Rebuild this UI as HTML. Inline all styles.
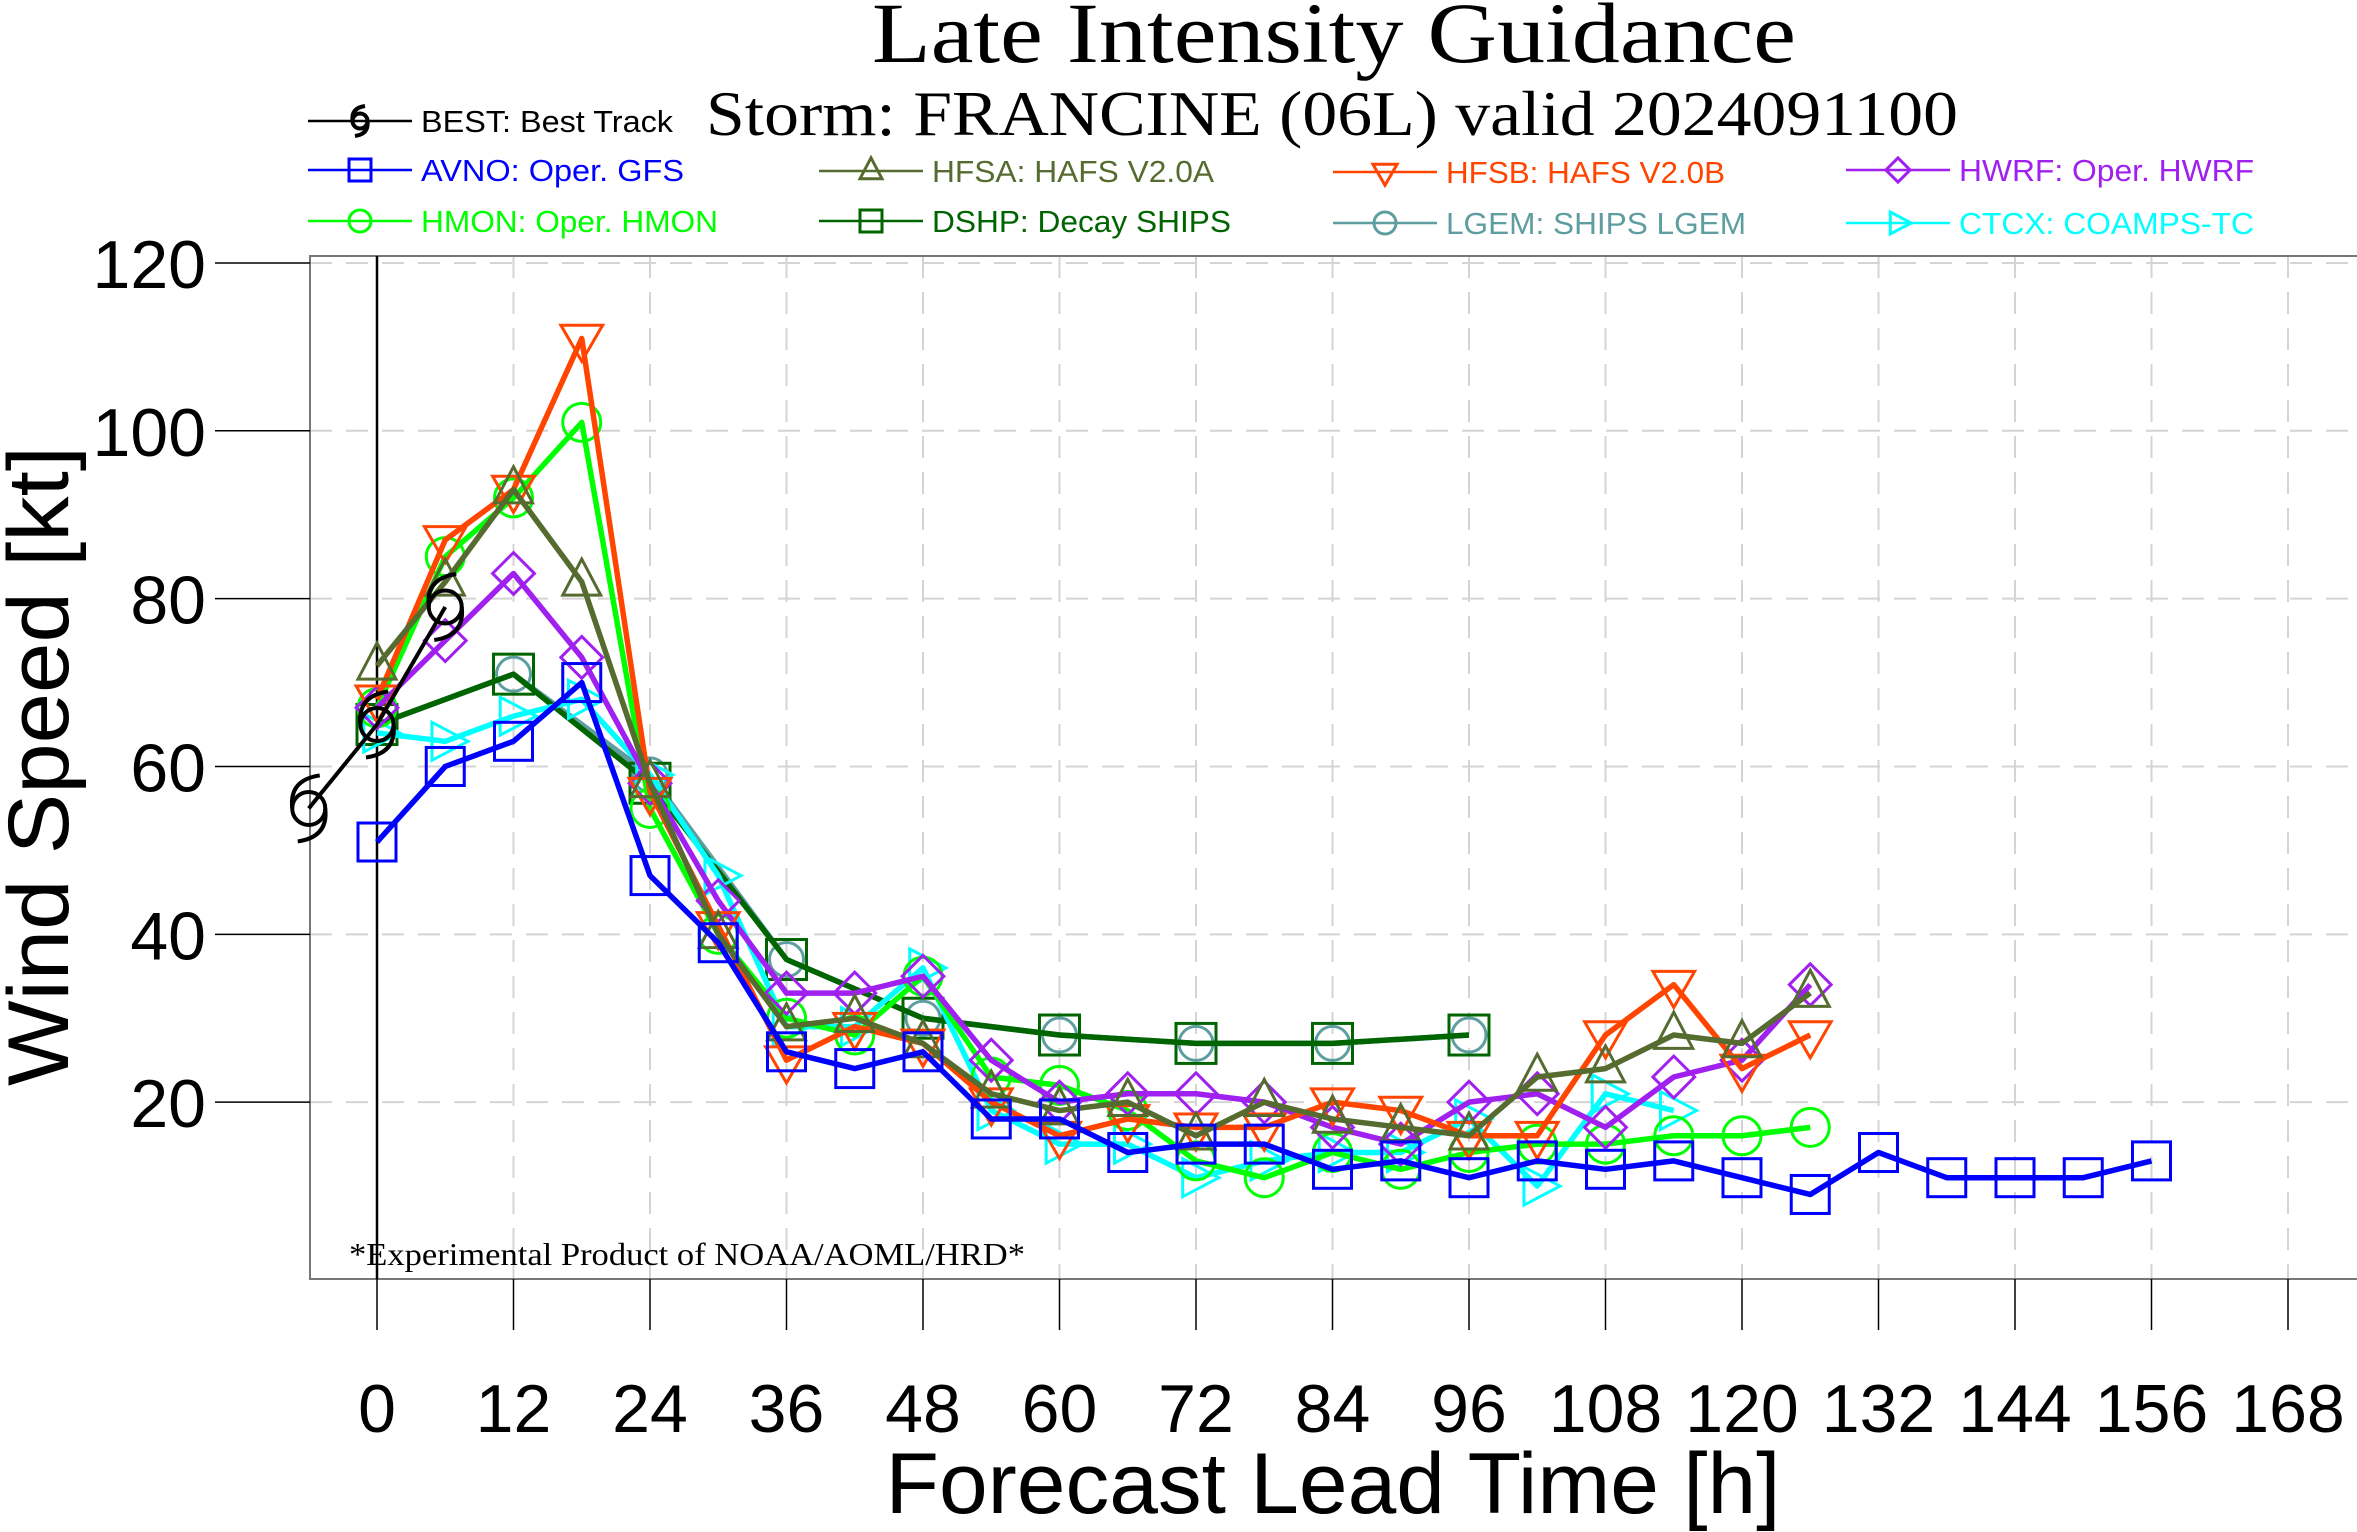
<!DOCTYPE html>
<html><head><meta charset="utf-8"><style>
html,body{margin:0;padding:0;background:#fff;}
svg{display:block;}
</style></head><body>
<svg id="chart" width="2357" height="1532" viewBox="0 0 2357 1532" xmlns="http://www.w3.org/2000/svg">
<rect width="2357" height="1532" fill="#fff"/>
<text x="872" y="62" font-family="Liberation Serif, serif" font-size="86" textLength="924" lengthAdjust="spacingAndGlyphs">Late Intensity Guidance</text>
<text x="706" y="135" font-family="Liberation Serif, serif" font-size="64" textLength="1252" lengthAdjust="spacingAndGlyphs">Storm: FRANCINE (06L) valid 2024091100</text>
<g id="grid"></g>
<rect x="310" y="256" width="2060" height="1023" fill="none" stroke="#777" stroke-width="2"/>
<line x1="377" y1="256" x2="377" y2="1279" stroke="#000" stroke-width="2.5"/>
<g id="axes"></g>
<g id="series"></g>
<g id="legend"></g>
<text x="349" y="1265" font-family="Liberation Serif, serif" font-size="32" textLength="676" lengthAdjust="spacingAndGlyphs">*Experimental Product of NOAA/AOML/HRD*</text>
<text x="1333" y="1513" text-anchor="middle" font-family="Liberation Sans, sans-serif" font-size="86" textLength="895" lengthAdjust="spacingAndGlyphs">Forecast Lead Time [h]</text>
<text transform="translate(68,766) rotate(-90)" text-anchor="middle" font-family="Liberation Sans, sans-serif" font-size="86" textLength="640" lengthAdjust="spacingAndGlyphs">Wind Speed [kt]</text>
</svg>
<script>
const xTicks = [0,12,24,36,48,60,72,84,96,108,120,132,144,156,168];
const yTicks = [20,40,60,80,100,120];
const hours = [0,6,12,18,24,30,36,42,48,54,60,66,72,78,84,90,96,102,108,114,120,126,132,138,144,150,156];
const bestHours = [-6,0,6];
const bestVals = [55,65,79];
const avnoVals = [51,60,63,70,47,39,26,24,26,18,18,14,15,15,12,13,11,13,12,13,11,9,14,11,11,11,13];
const hfsaVals = [72,82,93,82,58,40,29,30,27,21,19,20,16,20,18,17,16,23,24,28,27,33];
const hfsbVals = [68,87,93,111,57,41,25,29,27,20,16,18,17,17,20,19,16,16,28,34,24,28];
const hwrfVals = [67,75,83,73,58,44,33,33,35,25,20,21,21,20,17,15,20,21,17,23,25,34];
const hmonVals = [67,85,92,101,55,40,30,28,35,23,22,19,13,11,14,12,14,15,15,16,16,17];
const dshpHours = [0,12,24,36,48,60,72,84,96];
const dshpVals = [65,71,58,37,30,28,27,27,28];
const lgemVals = [65,71,59,37,30,28,27,27,28];
const ctcxVals = [64,63,66,68,59,47,29,29,36,19,15,15,11,13,14,14,18,10,21,19];

const NS='http://www.w3.org/2000/svg';
const X = h => 377 + h*11.375;
const Y = v => 1270 - v*8.392;
function mk(tag, attrs, parent){const e=document.createElementNS(NS,tag);for(const k in attrs)e.setAttribute(k,attrs[k]);parent.appendChild(e);return e;}
const grid=document.getElementById('grid'), axes=document.getElementById('axes'), ser=document.getElementById('series'), leg=document.getElementById('legend');

xTicks.forEach(t=>{
  if(t>0){const g=mk('line',{x1:X(t),y1:256,x2:X(t),y2:1279,stroke:'#d4d4d4','stroke-width':2,'stroke-dasharray':'22,14'},grid);
  
  }
  const tk=mk('line',{x1:X(t),y1:1279,x2:X(t),y2:1330,stroke:'#000','stroke-width':1.5},axes);
  
  
  const lb=mk('text',{x:X(t),y:1432,'text-anchor':'middle','font-family':'Liberation Sans, sans-serif','font-size':68},axes);
  lb.textContent=t;
  
  
});
yTicks.forEach(t=>{
  const g=mk('line',{x1:310,y1:Y(t),x2:2357,y2:Y(t),stroke:'#d4d4d4','stroke-width':2,'stroke-dasharray':'22,14'},grid);
  
  
  const tk=mk('line',{x1:215,y1:Y(t),x2:310,y2:Y(t),stroke:'#000','stroke-width':1.5},axes);
  
  
  const lb=mk('text',{x:206,y:Y(t)+25,'text-anchor':'end','font-family':'Liberation Sans, sans-serif','font-size':68},axes);
  lb.textContent=t;
  
  
});

function marker(type,cx,cy,col,s,parent){
  const a={fill:'none',stroke:col,'stroke-width':3};
  let e;
  if(type==='square') e=mk('rect',Object.assign({x:cx-s,y:cy-s,width:2*s,height:2*s},a),parent);
  else if(type==='circle') e=mk('circle',Object.assign({cx:cx,cy:cy,r:s},a),parent);
  else if(type==='tri') e=mk('polygon',Object.assign({points:`${cx},${cy-s*1.2} ${cx-s},${cy+s*0.7} ${cx+s},${cy+s*0.7}`},a),parent);
  else if(type==='itri') e=mk('polygon',Object.assign({points:`${cx},${cy+s*1.2} ${cx-s*1.1},${cy-s*0.7} ${cx+s*1.1},${cy-s*0.7}`},a),parent);
  else if(type==='diamond') e=mk('polygon',Object.assign({points:`${cx},${cy-s*1.1} ${cx+s*1.1},${cy} ${cx},${cy+s*1.1} ${cx-s*1.1},${cy}`},a),parent);
  else if(type==='rtri') e=mk('polygon',Object.assign({points:`${cx+s*1.2},${cy} ${cx-s*0.7},${cy-s} ${cx-s*0.7},${cy+s}`},a),parent);
  else if(type==='hurr'){
    e=mk('g',{},parent);
    mk('circle',{cx:cx,cy:cy,r:s*0.75,fill:'none',stroke:col,'stroke-width':4},e);
    mk('path',{d:`M${cx+s*0.75},${cy} Q${cx+s*0.9},${cy+s*1.3} ${cx-s*0.5},${cy+s*1.5}`,fill:'none',stroke:col,'stroke-width':4},e);
    mk('path',{d:`M${cx-s*0.75},${cy} Q${cx-s*0.9},${cy-s*1.3} ${cx+s*0.5},${cy-s*1.5}`,fill:'none',stroke:col,'stroke-width':4},e);
  }
  
  
  return e;
}

const series = [
  {id:'lgem',label:'LGEM: SHIPS LGEM',col:'#5F9EA0',m:'circle',h:dshpHours,v:lgemVals,lx:1333,ly:223,tl:300,ms:17},
  {id:'dshp',label:'DSHP: Decay SHIPS',col:'#006400',m:'square',h:dshpHours,v:dshpVals,lx:819,ly:221,tl:299,ms:20},
  {id:'ctcx',label:'CTCX: COAMPS-TC',col:'#00FFFF',m:'rtri',h:hours,v:ctcxVals,lx:1846,ly:223,tl:295,ms:19},
  {id:'hmon',label:'HMON: Oper. HMON',col:'#00FF00',m:'circle',h:hours,v:hmonVals,lx:308,ly:221,tl:297,ms:19},
  {id:'hwrf',label:'HWRF: Oper. HWRF',col:'#A020F0',m:'diamond',h:hours,v:hwrfVals,lx:1846,ly:170,tl:295,ms:19},
  {id:'hfsb',label:'HFSB: HAFS V2.0B',col:'#FF4500',m:'itri',h:hours,v:hfsbVals,lx:1333,ly:172,tl:279,ms:19},
  {id:'hfsa',label:'HFSA: HAFS V2.0A',col:'#556B2F',m:'tri',h:hours,v:hfsaVals,lx:819,ly:171,tl:282,ms:19},
  {id:'avno',label:'AVNO: Oper. GFS',col:'#0000FF',m:'square',h:hours,v:avnoVals,lx:308,ly:170,tl:263,ms:19},
  {id:'best',label:'BEST: Best Track',col:'#000000',m:'hurr',h:bestHours,v:bestVals,lx:308,ly:121,tl:252,ms:22}
];
series.forEach(s=>{
  const g=mk('g',{},ser);
  
  
  const pts=s.v.map((v,i)=>X(s.h[i])+','+Y(v)).join(' ');
  const pl=mk('polyline',{points:pts,fill:'none',stroke:s.col,'stroke-width':s.id==='best'?4:5.5,'stroke-linejoin':'round'},g);
  
  
  s.v.forEach((v,i)=>{
    const mkEl=marker(s.m,X(s.h[i]),Y(v),s.col,s.ms,g);
    
  });
  const lg=mk('g',{},leg);
  
  
  mk('line',{x1:s.lx,y1:s.ly,x2:s.lx+104,y2:s.ly,stroke:s.col,'stroke-width':2.5},lg);
  const lm=marker(s.m,s.lx+52,s.ly,s.col,s.id==='best'?10:11,lg);
  
  const t=mk('text',{x:s.lx+113,y:s.ly+11,fill:s.col,'font-family':'Liberation Sans, sans-serif','font-size':31,textLength:s.tl,lengthAdjust:'spacingAndGlyphs'},lg);
  t.textContent=s.label;
  
  
});
</script>
</body></html>
